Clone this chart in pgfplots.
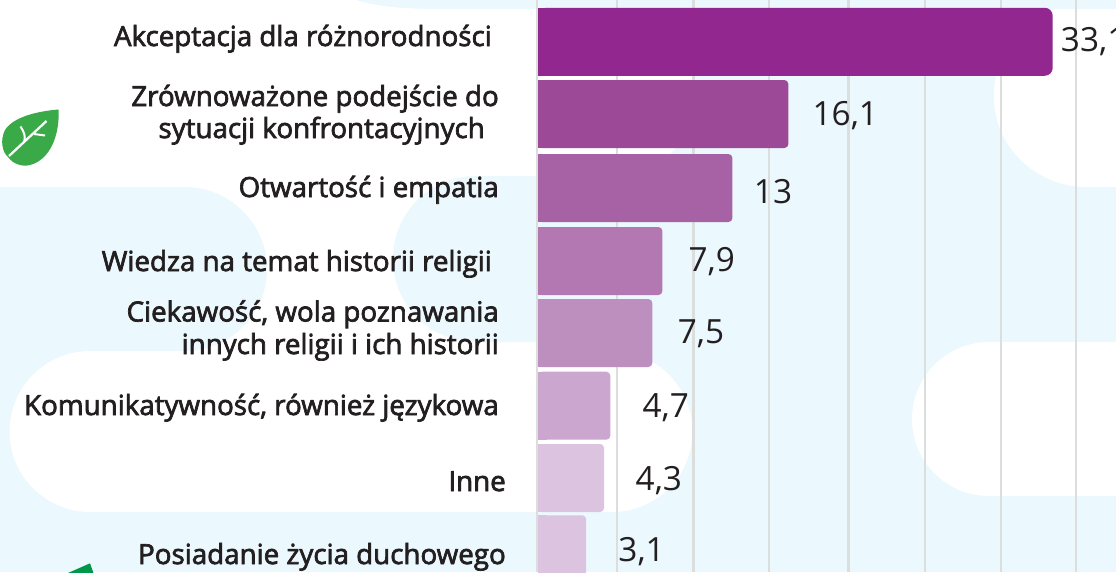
\documentclass[border=0pt]{standalone}
\usepackage{pgfplots}
\usepackage{fontspec}
\pgfplotsset{compat=1.18}
\setmainfont{Open Sans}
\newfontfamily\lab{Open Sans}[FakeBold=2.5]
\newfontfamily\val{Open Sans}
\definecolor{bg}{HTML}{EBF8FD}
\definecolor{c1}{HTML}{92278F}
\definecolor{c2}{HTML}{9C4A98}
\definecolor{c3}{HTML}{A762A6}
\definecolor{c4}{HTML}{B378B2}
\definecolor{c5}{HTML}{BC8FBF}
\definecolor{c6}{HTML}{CBA7CF}
\definecolor{c7}{HTML}{DCC4E1}
\definecolor{ink}{HTML}{231F20}
\definecolor{leafa}{HTML}{3AAA49}
\definecolor{leafb}{HTML}{00974B}
\definecolor{gridc}{HTML}{DCDDDD}
\pgfplotsset{
  vv/.style n args={3}{nodes near coords={#1},
    point meta=x,
    nodes near coords style={anchor=base west,inner sep=0pt,text=ink,font=\val\fontsize{25pt}{30pt}\selectfont,xshift=#2,yshift=#3}},
  sq/.style={xbar,bar width=51pt,bar shift=0pt,draw=none,fill=#1,forget plot},
  rd/.style={xbar,bar width=51pt,bar shift=0pt,draw=none,fill=#1,rounded corners=3pt,forget plot},
}
\begin{document}
\begin{tikzpicture}
\path[use as bounding box] (0,0) rectangle (837pt,-429pt);
\clip (0,0) rectangle (837pt,-429pt);
\begin{scope}[x=0.75pt,y=-0.75pt]
\fill[bg] (0,0) rectangle (1116,572);
% white regions of the page decoration
\fill[white] (0,0) -- (356,0) .. controls (375,6) and (400,9) .. (440,9) -- (615,9) .. controls (670,9) and (695,50) .. (695,96) .. controls (695,140) and (659,176) .. (615,176) -- (540,176) -- (540,351) -- (0,351) -- cycle;
\fill[bg] (0,187) -- (185,187) .. controls (230,187) and (267,224) .. (267,269) .. controls (267,314) and (230,351) .. (185,351) -- (0,351) -- cycle;
\fill[bg] (560,176) -- (476,176) .. controls (430,176) and (393,213) .. (393,259) .. controls (393,305) and (430,342) .. (476,342) -- (560,342) -- cycle;
\fill[white] (90,351) -- (612,351) .. controls (656,351) and (692.5,387) .. (692.5,431.5) .. controls (692.5,476) and (656,512) .. (612,512) -- (90,512) .. controls (46,512) and (9.5,476) .. (9.5,431.5) .. controls (9.5,387) and (46,351) .. (90,351) -- cycle;
\fill[white] (1116,9) -- (1060,9) .. controls (1020,9) and (994,50) .. (994,97) .. controls (994,150) and (1040,187) .. (1085,187) -- (1116,187) -- cycle;
\fill[white] (1116,342) -- (989,342) .. controls (946,342) and (912,377) .. (912,419) .. controls (912,461) and (946,496) .. (989,496) -- (1116,496) -- cycle;
% leaves
\fill[leafa] (58.5,109.5) .. controls (40,111) and (14,116) .. (5,130) .. controls (0,140) and (2,152) .. (8,157) .. controls (13,164) and (22,167) .. (30,165) .. controls (50,160) and (60,135) .. (58.5,109.5) -- cycle;
\draw[white,line width=1.7pt] (9,156) -- (46.5,121);
\draw[white,line width=1.5pt] (24,142.5) .. controls (26,136) and (24,132) .. (20.5,126.5);
\draw[white,line width=1.5pt] (34,134) -- (45,135.5);
\fill[leafb] (90,563.3) -- (68,573) -- (93.5,573) -- cycle;
\end{scope}
\begin{axis}[at={(0,-429pt)},anchor=south west,scale only axis,width=837pt,height=429pt,
  xmin=-34.598,xmax=37.170,ymin=0,ymax=572,y dir=reverse,
  axis line style={draw=none},major tick length=0pt,
  xtick={-0.06,5.10,10.00,14.87,19.97,24.88,29.75,34.62},ytick=\empty,
  xticklabels={},
  xmajorgrids,grid style={gridc,line width=1.7pt}]
\addplot[rd=c1,rounded corners=6pt,vv={33,1}{6pt}{-7.5pt}] coordinates {(33.1,41.75)};
\addplot[sq=c1] coordinates {(0.55,41.75)};
\addplot[rd=c2,vv={16,1}{18pt}{-8.8pt}] coordinates {(16.1,114)};
\addplot[sq=c2] coordinates {(0.55,114)};
\addplot[rd=c3,vv={13}{16pt}{-11.8pt}] coordinates {(12.5,188)};
\addplot[sq=c3] coordinates {(0.55,188)};
\addplot[rd=c4,vv={7,9}{19.5pt}{-7.5pt}] coordinates {(8.0,261)};
\addplot[sq=c4] coordinates {(0.55,261)};
\addplot[rd=c5,vv={7,5}{19pt}{-7.5pt}] coordinates {(7.35,333)};
\addplot[sq=c5] coordinates {(0.55,333)};
\addplot[rd=c6,vv={4,7}{24pt}{-8.5pt}] coordinates {(4.65,405.7)};
\addplot[sq=c6] coordinates {(0.55,405.7)};
\addplot[rd=c7,vv={4,3}{23.5pt}{-9pt}] coordinates {(4.25,478)};
\addplot[sq=c7] coordinates {(0.55,478)};
\addplot[rd=c7,vv={3,1}{24pt}{-9.5pt}] coordinates {(3.1,549.3)};
\addplot[sq=c7] coordinates {(0.55,549.3)};
\end{axis}
\begin{scope}[x=0.75pt,y=-0.75pt,every node/.style={anchor=base east,inner sep=0pt,text=ink,font=\lab\fontsize{20.8pt}{24pt}\selectfont}]
\node at (492,46) {Akceptacja dla różnorodności};
\node at (499,106) {Zrównoważone podejście do};
\node at (485,138) {sytuacji konfrontacyjnych};
\node at (499,197) {Otwartość i empatia};
\node at (492,271) {Wiedza na temat historii religii};
\node at (499,321.5) {Ciekawość, wola poznawania};
\node at (499,354) {innych religii i ich historii};
\node at (499,415) {Komunikatywność, również językowa};
\node at (506,491) {Inne};
\node at (506,564) {Posiadanie życia duchowego};
\end{scope}
\end{tikzpicture}
\end{document}
